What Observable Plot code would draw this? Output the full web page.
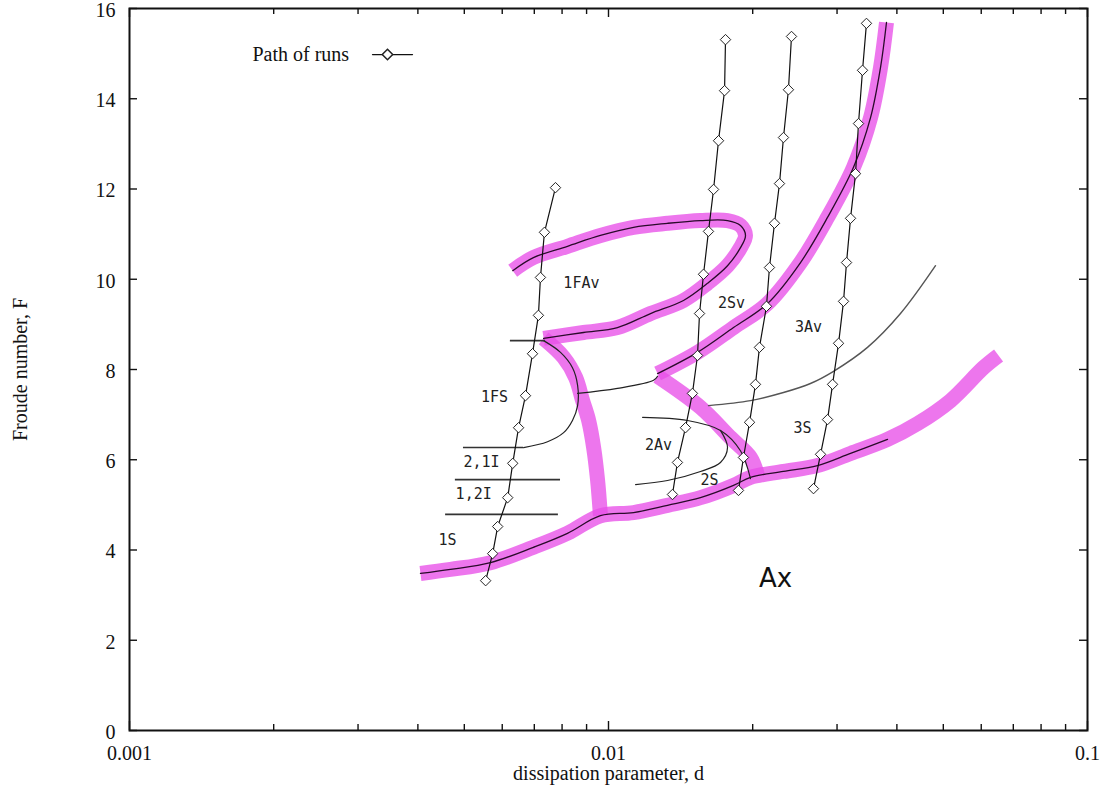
<!DOCTYPE html>
<html>
<head>
<meta charset="utf-8">
<script src="https://cdn.jsdelivr.net/npm/d3@7"></script>
<script src="https://cdn.jsdelivr.net/npm/@observablehq/plot@0.6"></script>
<style>
  html, body { margin: 0; padding: 0; background: #fff; }
  #chart svg { display: block; }
</style>
</head>
<body>
<div id="chart"></div>
<script>
// ---- Paths of runs: dissipation parameter d and Froude number F of each run ----
const run1D = [0.00554, 0.00573, 0.00587, 0.00616, 0.00631, 0.00649, 0.00671, 0.00694, 0.00714, 0.00721, 0.00735, 0.00775];
const run1F = [3.32, 3.92, 4.52, 5.16, 5.92, 6.71, 7.42, 8.35, 9.20, 10.04, 11.04, 12.03];
const run2D = [0.01360, 0.01393, 0.01448, 0.01497, 0.01534, 0.01549, 0.01579, 0.01617, 0.01657, 0.01697, 0.01747, 0.01755];
const run2F = [5.23, 5.94, 6.71, 7.47, 8.31, 9.24, 10.11, 11.06, 11.99, 13.07, 14.18, 15.31];
const run3D = [0.01868, 0.01913, 0.01970, 0.02027, 0.02066, 0.02137, 0.02168, 0.02221, 0.02275, 0.02319, 0.02375, 0.02410];
const run3F = [5.32, 6.05, 6.83, 7.67, 8.49, 9.40, 10.26, 11.24, 12.12, 13.14, 14.20, 15.38];
const run4D = [0.02679, 0.02771, 0.02866, 0.02936, 0.03022, 0.03095, 0.03140, 0.03201, 0.03279, 0.03326, 0.03391, 0.03456];
const run4F = [5.36, 6.12, 6.89, 7.67, 8.58, 9.51, 10.37, 11.35, 12.34, 13.45, 14.63, 15.67];

// ---- Highlighted solution branches ----
const lowerD = [0.00405, 0.00468, 0.00567, 0.00697, 0.00821, 0.00962, 0.01128, 0.01328, 0.01556, 0.01824, 0.01979, 0.02319, 0.02731, 0.03201, 0.03824, 0.04417, 0.05176, 0.06066, 0.06521];
const lowerF = [3.48, 3.57, 3.72, 4.06, 4.37, 4.76, 4.83, 4.99, 5.16, 5.43, 5.61, 5.74, 5.87, 6.14, 6.45, 6.80, 7.31, 8.04, 8.31];
const lowerComputedCount = 15; // computed part of the lower branch (thin line)
const fallD = [0.00732, 0.00806, 0.00854, 0.00883, 0.00909, 0.00931, 0.00949, 0.00962];
const fallF = [8.69, 8.27, 7.82, 7.31, 6.87, 6.27, 5.54, 4.76];
const loopD = [0.00732, 0.00887, 0.01044, 0.01224, 0.01434, 0.01609, 0.01772, 0.01886, 0.01932, 0.01886, 0.01772, 0.01556, 0.01328, 0.01128, 0.00962, 0.00821, 0.00697, 0.00631];
const loopF = [8.69, 8.82, 8.93, 9.24, 9.53, 9.91, 10.30, 10.70, 10.97, 11.19, 11.30, 11.30, 11.24, 11.15, 10.97, 10.73, 10.48, 10.19];
const upperD = [0.01266, 0.01534, 0.01824, 0.02147, 0.02517, 0.02866, 0.03247, 0.03524, 0.03697, 0.03805];
const upperF = [7.91, 8.38, 8.93, 9.46, 10.37, 11.37, 12.48, 13.58, 14.69, 15.69];
const dropD = [0.01266, 0.01556, 0.01798, 0.01979, 0.02047];
const dropF = [7.85, 7.16, 6.49, 6.05, 5.65];

// ---- Regime boundaries (thin lines) ----
const fsD = [0.00665, 0.00746, 0.00806, 0.00841, 0.00862, 0.00862, 0.00841, 0.00794, 0.00732];
const fsF = [6.27, 6.40, 6.60, 6.87, 7.20, 7.65, 8.04, 8.38, 8.64];
const linkD = [0.00862, 0.01044, 0.01242, 0.01266];
const linkF = [7.47, 7.58, 7.76, 7.85];
const av2TopD = [0.01178, 0.01462, 0.01713, 0.01886, 0.01979];
const av2TopF = [6.94, 6.87, 6.65, 6.20, 5.58];
const av2LowD = [0.01713, 0.01772, 0.01713, 0.01556, 0.01328, 0.01139];
const av2LowF = [6.65, 6.27, 5.94, 5.74, 5.54, 5.45];
const av3D = [0.01617, 0.01979, 0.02319, 0.02640, 0.02950, 0.03473, 0.04070, 0.04816];
const av3F = [7.20, 7.31, 7.49, 7.69, 7.96, 8.49, 9.24, 10.30];
const levelF = [8.64, 6.27, 5.56, 4.79];
const levelD1 = [0.00624, 0.00498, 0.00479, 0.00457];
const levelD2 = [0.00739, 0.00665, 0.00794, 0.00786];

// ---- Regime labels ----
const regionNames = ["1FAv", "2Sv", "3Av", "1FS", "2,1I", "1,2I", "1S", "2Av", "2S", "3S"];
const regionD = [0.00878, 0.01806, 0.02616, 0.00578, 0.00543, 0.00523, 0.00461, 0.01272, 0.01625, 0.02541];
const regionF = [9.91, 9.48, 8.93, 7.38, 5.94, 5.23, 4.21, 6.32, 5.54, 6.69];
const bigName = ["Ax"];
const bigD = [0.02232];
const bigF = [3.37];

// ---- Legend ----
const legendName = ["Path of runs"];
const legendTextD = [0.001806];
const legendKeyD = [0.003216, 0.003898];
const legendDotD = [0.003456];
const legendF = 14.98;

// ---- Axes ----
const xMajor = [0.001, 0.01, 0.1];
const xMinor = [2, 3, 4, 5, 6, 7, 8, 9].flatMap(m => [m * 0.001, m * 0.01]);
const yTicks = [0, 2, 4, 6, 8, 10, 12, 14, 16];
const xTitle = "dissipation parameter, d";
const yTitle = "Froude number, F";

// ---- Layout ----
const W = 1112, H = 791;
const margin = {left: 129, right: 25, top: 8, bottom: 61};
const frameW = W - margin.left - margin.right;
const frameH = H - margin.top - margin.bottom;

const pts = (D, F) => D.map((d, i) => ({d, F: F[i]}));
const runs = [[run1D, run1F], [run2D, run2F], [run3D, run3F], [run4D, run4F]];
const bands = [[lowerD, lowerF], [fallD, fallF], [loopD, loopF], [upperD, upperF], [dropD, dropF]];
const innerLines = [
  [lowerD.slice(0, lowerComputedCount), lowerF.slice(0, lowerComputedCount)],
  [loopD, loopF], [upperD, upperF]
];
const thinLines = [[fsD, fsF], [linkD, linkF], [av2TopD, av2TopF], [av2LowD, av2LowF]];
const levels = levelF.map((F, i) => ({F, d1: levelD1[i], d2: levelD2[i]}));

const pink = "#e850e8";
const ink = "#111";
const monoFont = "'DejaVu Sans Mono', monospace";

// inward tick marks on all four sides of the frame
const ticksX = (values, len, side) => Plot.ruleX(values, {
  x: d => d, stroke: ink, strokeWidth: 1.4,
  ...(side === "bottom" ? {insetTop: frameH - len} : {insetBottom: frameH - len})
});
const ticksY = (values, len, side) => Plot.ruleY(values, {
  y: d => d, stroke: ink, strokeWidth: 1.4,
  ...(side === "left" ? {insetRight: frameW - len} : {insetLeft: frameW - len})
});

const chart = Plot.plot({
  width: W,
  height: H,
  marginLeft: margin.left,
  marginRight: margin.right,
  marginTop: margin.top,
  marginBottom: margin.bottom,
  x: {type: "log", domain: [0.001, 0.1]},
  y: {domain: [0, 16]},
  style: {fontFamily: "'Liberation Serif', serif", fontSize: "20px", color: ink, background: "#fff"},
  marks: [
    // thick highlighted branches
    ...bands.map(([D, F]) => Plot.line(pts(D, F), {
      x: "d", y: "F", curve: "catmull-rom", stroke: pink, strokeOpacity: 0.78,
      strokeWidth: 15, strokeLinecap: "butt", strokeLinejoin: "round"
    })),
    // computed branch lines inside the bands
    ...innerLines.map(([D, F]) => Plot.line(pts(D, F), {
      x: "d", y: "F", curve: "catmull-rom", stroke: "#2a0a2a", strokeWidth: 1.3
    })),
    // regime boundaries
    ...thinLines.map(([D, F]) => Plot.line(pts(D, F), {
      x: "d", y: "F", curve: "catmull-rom", stroke: "#222", strokeWidth: 1.2
    })),
    Plot.line(pts(av3D, av3F), {x: "d", y: "F", curve: "catmull-rom", stroke: "#555", strokeWidth: 1.4}),
    Plot.ruleY(levels, {y: "F", x1: "d1", x2: "d2", stroke: "#333", strokeWidth: 1.6}),
    // paths of runs
    ...runs.map(([D, F]) => Plot.line(pts(D, F), {x: "d", y: "F", stroke: ink, strokeWidth: 1.2})),
    ...runs.map(([D, F]) => Plot.dot(pts(D, F), {
      x: "d", y: "F", symbol: "diamond2", r: 4.7, stroke: "#222", fill: "#fff", strokeWidth: 1
    })),
    // regime labels
    Plot.text(regionNames, {
      x: (_, i) => regionD[i], y: (_, i) => regionF[i], text: d => d,
      fontFamily: monoFont, fontSize: 15, fill: "#222", letterSpacing: 0.9
    }),
    Plot.text(bigName, {
      x: (_, i) => bigD[i], y: (_, i) => bigF[i], text: d => d,
      fontFamily: "'DejaVu Sans', sans-serif", fontSize: 26, fill: ink
    }),
    // legend
    Plot.text(legendName, {
      x: (_, i) => legendTextD[i], y: () => legendF, text: d => d, textAnchor: "start",
      fill: ink, letterSpacing: 0.6
    }),
    Plot.line(legendKeyD, {x: d => d, y: () => legendF, stroke: ink, strokeWidth: 1.2}),
    Plot.dot(legendDotD, {x: d => d, y: () => legendF, symbol: "diamond2", r: 4.7, stroke: "#222", fill: "#fff"}),
    // frame, ticks and tick labels
    Plot.frame({stroke: ink, strokeWidth: 2}),
    ticksX(xMajor, 9, "bottom"),
    ticksX(xMinor, 6, "bottom"),
    ticksX(xMajor, 9, "top"),
    ticksX(xMinor, 6, "top"),
    ticksY(yTicks, 8, "left"),
    ticksY(yTicks, 8, "right"),
    Plot.axisX(xMajor, {anchor: "bottom", tickSize: 0, tickPadding: 15, tickFormat: d => String(d), label: null}),
    Plot.axisY(yTicks, {anchor: "left", tickSize: 0, tickPadding: 14, dy: 2, tickFormat: d => String(d), label: null}),
    // axis titles
    Plot.text([xTitle], {text: d => d, frameAnchor: "bottom", dy: 43, lineAnchor: "middle", textAnchor: "middle", fill: ink, letterSpacing: 1}),
    Plot.text([yTitle], {text: d => d, frameAnchor: "left", dx: -109, rotate: -90, lineAnchor: "middle", textAnchor: "middle", fill: ink, letterSpacing: 0.7})
  ]
});

document.getElementById("chart").append(chart);
</script>
</body>
</html>
